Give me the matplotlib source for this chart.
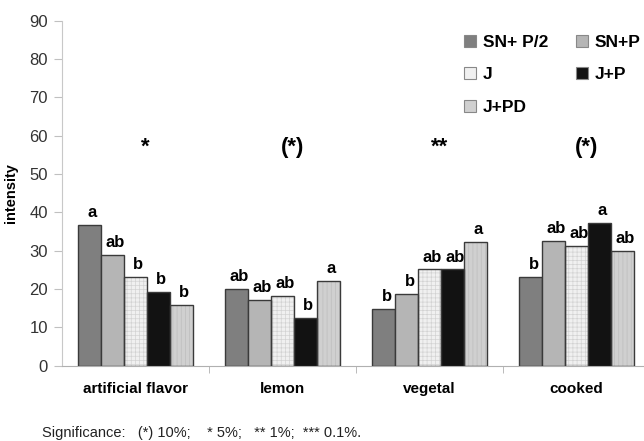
import numpy as np
import matplotlib
matplotlib.use('Agg')
import matplotlib.pyplot as plt
from matplotlib.patches import Patch

plt.rcParams['font.family'] = ['Liberation Sans', 'DejaVu Sans']
plt.rcParams['hatch.linewidth'] = 0.5

categories = ['artificial flavor', 'lemon', 'vegetal', 'cooked']
series = ['SN+ P/2', 'SN+P', 'J', 'J+P', 'J+PD']
values = [
    [36.6, 20.0, 14.8, 23.2],   # SN+ P/2
    [28.9, 17.1, 18.7, 32.5],   # SN+P
    [23.2, 18.1, 25.1, 31.1],   # J
    [19.3, 12.5, 25.1, 37.2],   # J+P
    [15.8, 22.0, 32.2, 29.8],   # J+PD
]
letters = [
    ['a', 'ab', 'b', 'b'],
    ['ab', 'ab', 'b', 'ab'],
    ['b', 'ab', 'ab', 'ab'],
    ['b', 'b', 'ab', 'a'],
    ['b', 'a', 'a', 'ab'],
]
significance = ['*', '(*)', '**', '(*)']
sig_level = 57

face = ['#7f7f7f', '#b5b5b5', '#f0f0f0', '#121212', '#d0d0d0']
hatch = [None, None, '++++', None, '||||']
hatch_col = [None, None, '#d2d2d2', None, '#bcbcbc']

fig = plt.figure(figsize=(6.44, 4.41), dpi=100)
ax = fig.add_axes([62 / 644, 1 - 365.7 / 441, 588 / 644, 345 / 441])

x = np.arange(len(categories))
w = 0.156
for i in range(len(series)):
    pos = x - 2 * w + i * w
    if hatch[i]:
        ax.bar(pos, values[i], w, color=face[i], hatch=hatch[i],
               edgecolor=hatch_col[i], linewidth=0, zorder=2)
        ax.bar(pos, values[i], w, fill=False, edgecolor='#3a3a3a', linewidth=1, zorder=3)
    else:
        ax.bar(pos, values[i], w, color=face[i], edgecolor='#3a3a3a', linewidth=1, zorder=3)
    for j in range(len(categories)):
        ax.text(pos[j] + 0.02, values[i][j] + 1.3, letters[i][j], ha='center', va='bottom',
                fontsize=12, fontweight='bold')

for j, s in enumerate(significance):
    ax.text(x[j] + 0.07, sig_level, s, ha='center', va='center', fontsize=16, fontweight='bold')

ax.set_xlim(-0.5, 3.5)
ax.set_ylim(0, 90)
ax.set_yticks(range(0, 91, 10))
ax.set_xticks(x)
ax.set_xticklabels(categories, fontweight='bold', fontsize=11)
ax.set_xticks([0.5, 1.5, 2.5], minor=True)
ax.tick_params(axis='x', which='major', length=0, pad=12)
ax.tick_params(axis='x', which='minor', length=5, color='#b0b0b0')
ax.tick_params(axis='y', length=6, color='#c0c0c0', labelsize=12, labelcolor='#333333', pad=4)
ax.set_ylabel('intensity', fontweight='bold', fontsize=10.5, labelpad=8)

for sp in ['top', 'right']:
    ax.spines[sp].set_visible(False)
ax.spines['left'].set_color('#c8c8c8')
ax.spines['bottom'].set_color('#b0b0b0')

handles = []
for i in [0, 2, 4, 1, 3]:
    handles.append(Patch(facecolor=face[i], edgecolor='#888888', linewidth=0.8, label=series[i]))
leg = fig.legend(handles=handles, loc='upper left', bbox_to_anchor=(455 / 644, 1 - 26 / 441),
                 ncol=2, frameon=False, borderpad=0, handlelength=0.7, handleheight=0.7,
                 handletextpad=0.4, columnspacing=1.6, labelspacing=1.0,
                 prop={'weight': 'bold', 'size': 12.5})

fig.text(42 / 644, 1 - 433 / 441, 'Significance:   (*) 10%;    * 5%;   ** 1%;  *** 0.1%.',
         fontsize=10.5, va='center', ha='left', color='#222222')

fig.savefig('out.png', dpi=100)
